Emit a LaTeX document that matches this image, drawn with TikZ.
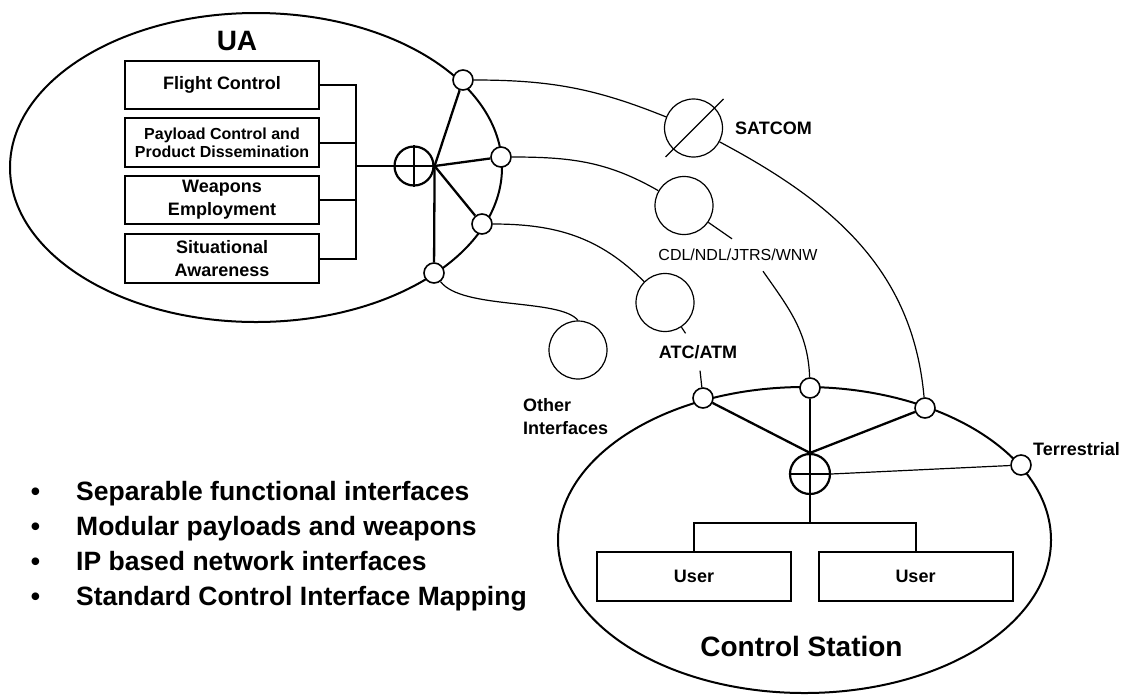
\documentclass[tikz,border=0pt]{standalone}
\usepackage{fontspec}
\setmainfont{Liberation Sans}
\usetikzlibrary{positioning}

\begin{document}
\begin{tikzpicture}[x=1pt, y=1pt,
    wall/.style={line width=2pt},
    box/.style={draw, line width=2pt, minimum width=194pt, minimum height=48pt,
      inner sep=0pt, align=center, font=\bfseries\fontsize{18}{23}\selectfont},
    port/.style={circle, draw, fill=white, line width=1.6pt, minimum size=20pt, inner sep=0pt},
    net/.style={circle, draw, line width=1.2pt, minimum size=58pt, inner sep=0pt},
    sumpt/.style={circle, draw, line width=2.2pt, minimum size=39pt, inner sep=0pt},
    hub/.style={line width=2.3pt},
    link/.style={line width=1.2pt},
    lbl/.style={font=\bfseries\fontsize{18}{23}\selectfont, inner sep=0pt}]
    \useasboundingbox (0,0) rectangle (1123,-694);

    % UA and control station outlines
    \draw[wall] (256,-167.5) ellipse [x radius=246, y radius=154.5];
    \draw[wall] (804.5,-540) ellipse [x radius=246.5, y radius=153];

    % UA title and function boxes
    \node[font=\bfseries\fontsize{28}{32}\selectfont, anchor=base] (uatitle) at (237,-50) {UA};
    \node[box] (fc) at (222,-85) {Flight Control};
    \node[box, minimum height=49pt, font=\bfseries\fontsize{16}{18}\selectfont] (pc) at (222,-142.5) {Payload Control and\\Product Dissemination};
    \node[box] (we) at (222,-200) {Weapons\\Employment};
    \node[box, minimum height=49pt] (sa) at (222,-258.5) {Situational\\Awareness};

    % UA bus and summing point
    \coordinate (uabus) at (356,-166);
    \node[sumpt] (uasum) at (414,-166) {};
    \draw[hub] (uasum.north) -- (uasum.south);
    \draw[wall] (fc.east) -| (uabus) |- (sa.east);
    \draw[wall] (pc.east) -- (pc.east -| uabus);
    \draw[wall] (we.east) -- (we.east -| uabus);
    \draw[hub] (uabus) -- (uasum.east);

    % UA ports
    \node[port] (u1) at (463,-80) {};
    \node[port] (u2) at (501,-157) {};
    \node[port] (u3) at (482,-224) {};
    \node[port] (u4) at (434,-273) {};
    \foreach \p in {u1,u2,u3,u4}
      \draw[hub] (uasum.east) -- (\p);

    % data links
    \node[net] (sat) at (693.5,-128) {};
    \draw[link] ([shift={(-28,-29)}]sat.center) -- ([shift={(30,29)}]sat.center);
    \node[net] (cdl) at (684,-205.5) {};
    \node[net] (atc) at (665,-302.5) {};
    \node[net] (oth) at (578,-350) {};

    \node[lbl, anchor=west] (satlbl) at (735,-128) {SATCOM};
    \node[font=\fontsize{16}{18}\selectfont, minimum height=32pt, inner sep=0pt] (cdllbl) at (738,-255) {CDL/NDL/JTRS/WNW};
    \node[lbl, minimum height=37pt] (atclbl) at (698,-352) {ATC/ATM};
    \node[lbl, align=left, anchor=west] (othlbl) at (523,-416.5) {Other\\Interfaces};
    \node[lbl, anchor=west] (terlbl) at (1033,-449) {Terrestrial};

    % control station ports, summing point and users
    \node[port] (c1) at (703,-398) {};
    \node[port] (c2) at (810,-388) {};
    \node[port] (c3) at (925,-408) {};
    \node[port] (c4) at (1021,-465) {};
    \node[sumpt, minimum size=40pt] (cssum) at (810,-474) {};
    \draw[hub] (cssum.north) -- (cssum.south);
    \draw[hub] (cssum.west) -- (cssum.east);
    \foreach \p in {c1,c2,c3}
      \draw[hub] (cssum.north) -- (\p);
    \draw[link] (cssum.east) -- (c4);

    \node[box, minimum height=49pt] (user1) at (694,-576.5) {User};
    \node[box, minimum height=49pt] (user2) at (915.5,-576.5) {User};
    \coordinate (csbus) at (810,-523);
    \draw[wall] (cssum.south) -- (csbus);
    \draw[wall] (user1.north) |- (csbus) -| (user2.north);
    \node[font=\bfseries\fontsize{28}{32}\selectfont, anchor=base] (cstitle) at (801.5,-656) {Control Station};

    % links between UA and control station
    \draw[link] (u1) to[out=0, in=158] (sat);
    \draw[link] (sat) to[out=-28, in=95] (c3);
    \draw[link] (u2) to[out=0, in=150] (cdl);
    \draw[link] (cdl) -- ([xshift=-6pt]cdllbl.north);
    \draw[link] ([xshift=25pt]cdllbl.south) to[out=-55, in=92] (c2);
    \draw[link] (u3) to[out=0, in=135] (atc);
    \draw[link] (atc) -- (atclbl);
    \draw[link] (atclbl) -- (c1);
    \draw[link] (u4) .. controls (462,-310) and (560,-298) .. (oth.north);

    % bullet list
    \foreach \t [count=\i] in {Separable functional interfaces, Modular payloads and weapons, IP based network interfaces, Standard Control Interface Mapping} {
      \node[font=\bfseries\fontsize{26.5}{30}\selectfont, anchor=base, inner sep=0pt] (bul\i) at (35.5,{-500-35.3*(\i-1)}) {\textbullet};
      \node[font=\bfseries\fontsize{26.5}{30}\selectfont, anchor=base west, inner sep=0pt] (pt\i) at (76,{-500-35.3*(\i-1)}) {\t};
    }
\end{tikzpicture}
\end{document}
